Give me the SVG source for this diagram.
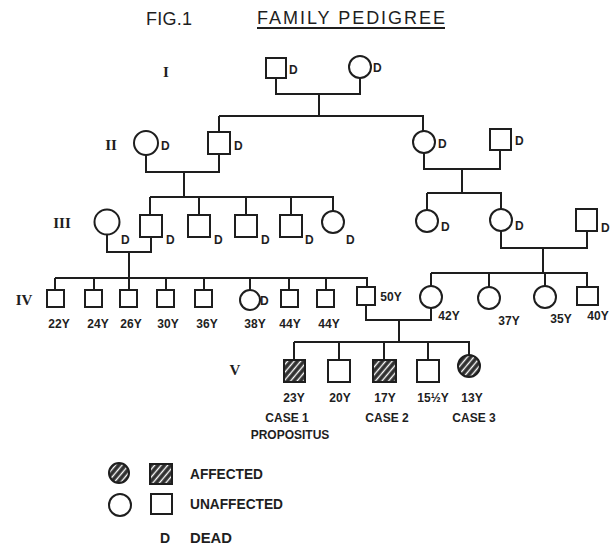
<svg xmlns="http://www.w3.org/2000/svg" width="611" height="547" viewBox="0 0 611 547">
<defs>
<pattern id="hatch" patternUnits="userSpaceOnUse" width="5" height="5" patternTransform="rotate(40)">
<rect width="5" height="5" fill="#2e2e2e"/>
<line x1="2.5" y1="0" x2="2.5" y2="5" stroke="#fff" stroke-width="1.4"/>
</pattern>
</defs>
<style>
.s{fill:#fff;stroke:#1e1e1e;stroke-width:2}
.a{fill:url(#hatch);stroke:#1e1e1e;stroke-width:2}
.c{fill:none;stroke:#1e1e1e;stroke-width:2}
text{font-family:"Liberation Sans",Arial,sans-serif;fill:#1e1e1e;font-weight:bold}
.t{font-size:18px;font-weight:normal}
.d{font-size:12px}
.y{font-size:12px;text-anchor:middle}
.r{font-family:"Liberation Serif","Times New Roman",serif;font-size:15px;text-anchor:middle}
.l{font-size:14px}
</style>
<rect width="611" height="547" fill="#fff"/>
<g id="title">
<text class="t" x="146" y="25" textLength="46">FIG.1</text>
<text class="t" x="257" y="24" textLength="188" lengthAdjust="spacing">FAMILY PEDIGREE</text>
<line x1="257" y1="28" x2="445" y2="28" stroke="#1e1e1e" stroke-width="1.8"/>
</g>
<g id="gen-labels">
<text class="r" x="166" y="77">I</text>
<text class="r" x="111" y="150">II</text>
<text class="r" x="62" y="228">III</text>
<text class="r" x="24" y="305">IV</text>
<text class="r" x="235" y="375">V</text>
</g>
<g id="connectors">
<path class="c" d="M276 78V94H360V78M319 94V116M219 116H423V131M219 116V132"/>
<path class="c" d="M146 155V172H219V154M184 172V197M150 197H333V211M150 197V215M199 197V215M246 197V215M291 197V215"/>
<path class="c" d="M424 153V169H500V150M462 169V193M427 193H501V209M427 193V210"/>
<path class="c" d="M107 235V252H151V237M129 252V278M55 278H367V287M55 278V290M94 278V290M129 278V290M166 278V290M204 278V290M250 278V290M289 278V290M326 278V290"/>
<path class="c" d="M501 230V248H587V231M543 248V273M431 273H587V287M431 273V286M489 273V287M545 273V287"/>
<path class="c" d="M366 305V320H431V308M399 320V342M294 342H469V355M294 342V360M339 342V360M384 342V360M428 342V360"/>
</g>
<g id="I-1"><rect class="s" x="266" y="58" width="20" height="20"/><text class="d" x="289" y="74">D</text></g>
<g id="I-2"><circle class="s" cx="360" cy="67" r="11"/><text class="d" x="373" y="72">D</text></g>
<g id="II-1"><circle class="s" cx="146" cy="143" r="12"/><text class="d" x="161" y="150">D</text></g>
<g id="II-2"><rect class="s" x="208" y="132" width="22" height="22"/><text class="d" x="234" y="150">D</text></g>
<g id="II-3"><circle class="s" cx="424" cy="142" r="11"/><text class="d" x="438" y="148">D</text></g>
<g id="II-4"><rect class="s" x="490" y="129" width="21" height="21"/><text class="d" x="515" y="145">D</text></g>
<g id="III-1"><circle class="s" cx="107" cy="222" r="12.5"/><text class="d" x="121" y="244">D</text></g>
<g id="III-2"><rect class="s" x="140" y="215" width="22" height="22"/><text class="d" x="166" y="244">D</text></g>
<g id="III-3"><rect class="s" x="188" y="215" width="22" height="22"/><text class="d" x="214" y="244">D</text></g>
<g id="III-4"><rect class="s" x="235" y="215" width="22" height="22"/><text class="d" x="261" y="244">D</text></g>
<g id="III-5"><rect class="s" x="280" y="215" width="22" height="22"/><text class="d" x="305" y="244">D</text></g>
<g id="III-6"><circle class="s" cx="333" cy="222" r="11"/><text class="d" x="346" y="244">D</text></g>
<g id="III-7"><circle class="s" cx="427" cy="221" r="11"/><text class="d" x="441" y="231">D</text></g>
<g id="III-8"><circle class="s" cx="501" cy="220" r="11"/><text class="d" x="515" y="230">D</text></g>
<g id="III-9"><rect class="s" x="576" y="209" width="21" height="22"/><text class="d" x="601" y="232">D</text></g>
<g id="IV-1"><rect class="s" x="47" y="290" width="17" height="17"/><text class="y" x="59" y="328">22Y</text></g>
<g id="IV-2"><rect class="s" x="85" y="290" width="17" height="17"/><text class="y" x="98" y="328">24Y</text></g>
<g id="IV-3"><rect class="s" x="120" y="290" width="17" height="17"/><text class="y" x="131" y="328">26Y</text></g>
<g id="IV-4"><rect class="s" x="157" y="290" width="17" height="17"/><text class="y" x="168" y="328">30Y</text></g>
<g id="IV-5"><rect class="s" x="195" y="290" width="17" height="17"/><text class="y" x="207" y="328">36Y</text></g>
<g id="IV-6"><circle class="s" cx="250" cy="300" r="10"/><text class="d" x="260" y="305">D</text><text class="y" x="255" y="328">38Y</text></g>
<g id="IV-7"><rect class="s" x="281" y="290" width="17" height="17"/><text class="y" x="290" y="328">44Y</text></g>
<g id="IV-8"><rect class="s" x="317" y="290" width="17" height="17"/><text class="y" x="329" y="328">44Y</text></g>
<g id="IV-9"><rect class="s" x="357" y="287" width="18" height="18"/><text class="y" x="391" y="301">50Y</text></g>
<g id="IV-10"><circle class="s" cx="431" cy="297" r="11"/><text class="y" x="449" y="320">42Y</text></g>
<g id="IV-11"><circle class="s" cx="489" cy="298" r="11"/><text class="y" x="509" y="325">37Y</text></g>
<g id="IV-12"><circle class="s" cx="545" cy="297" r="11"/><text class="y" x="561" y="323">35Y</text></g>
<g id="IV-13"><rect class="s" x="577" y="287" width="21" height="18"/><text class="y" x="598" y="320">40Y</text></g>
<g id="V-1"><rect class="a" x="284" y="360" width="21" height="22"/><text class="y" x="294" y="402">23Y</text><text class="y" x="287" y="422">CASE 1</text><text class="y" x="290" y="439">PROPOSITUS</text></g>
<g id="V-2"><rect class="s" x="328" y="360" width="22" height="22"/><text class="y" x="340" y="402">20Y</text></g>
<g id="V-3"><rect class="a" x="373" y="360" width="23" height="22"/><text class="y" x="385" y="402">17Y</text><text class="y" x="387" y="422">CASE 2</text></g>
<g id="V-4"><rect class="s" x="417" y="360" width="22" height="22"/><text class="y" x="433" y="402">15½Y</text></g>
<g id="V-5"><circle class="a" cx="469" cy="366" r="11"/><text class="y" x="472" y="402">13Y</text><text class="y" x="474" y="422">CASE 3</text></g>
<g id="legend">
<circle class="a" cx="119" cy="473" r="10"/>
<rect class="a" x="150" y="464" width="22" height="20"/>
<text class="l" x="190" y="479" textLength="73" lengthAdjust="spacingAndGlyphs">AFFECTED</text>
<circle class="s" cx="120" cy="505" r="11"/>
<rect class="s" x="151" y="494" width="21" height="20"/>
<text class="l" x="190" y="509" textLength="93" lengthAdjust="spacingAndGlyphs">UNAFFECTED</text>
<text class="l" x="160" y="543">D</text>
<text class="l" x="190" y="543" textLength="42" lengthAdjust="spacingAndGlyphs">DEAD</text>
</g>
</svg>
